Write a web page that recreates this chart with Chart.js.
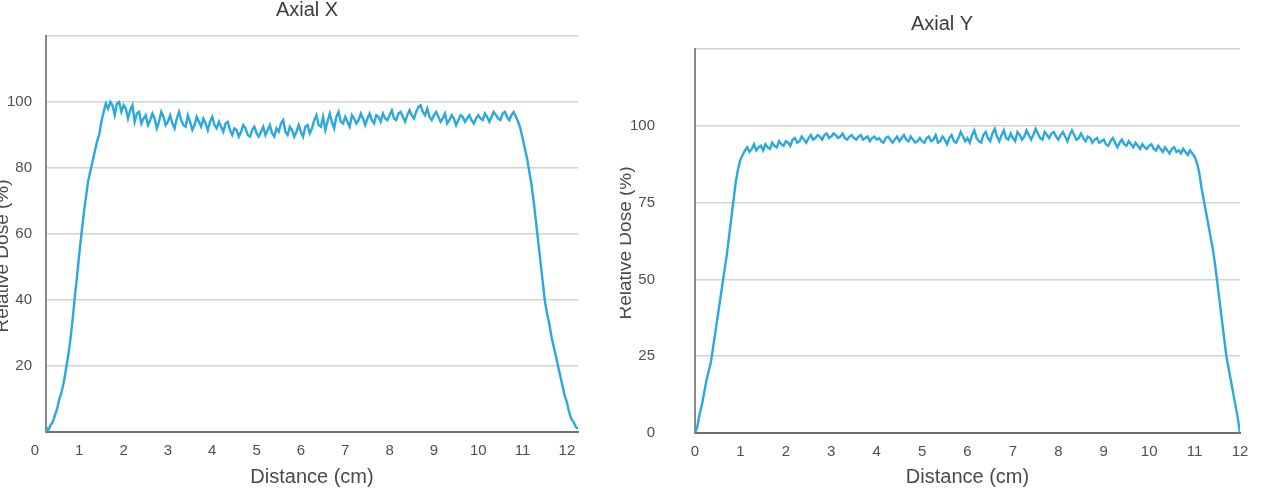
<!DOCTYPE html>
<html><head><meta charset="utf-8">
<script src="https://cdn.jsdelivr.net/npm/chart.js@4.4.1/dist/chart.umd.min.js"></script>
<style>
html,body{margin:0;padding:0;background:#fff;width:1266px;height:489px;overflow:hidden;position:relative}
canvas{position:absolute;top:0}
#cx{left:0}
#cy{left:620px}
</style></head><body>
<canvas id="cx" width="614" height="489"></canvas>
<canvas id="cy" width="646" height="489"></canvas>
<script>
// Distance (cm) sample positions
const distance = [
0,0.05,0.1,0.15,0.2,0.25,0.3,0.35,0.4,0.45,0.5,0.55,0.6,0.65,0.7,0.75,0.8,0.85,0.9,0.95,
1,1.05,1.1,1.15,1.2,1.25,1.3,1.35,1.4,1.45,1.5,1.55,1.6,1.65,1.7,1.75,1.8,1.85,1.9,1.95,
2,2.05,2.1,2.15,2.2,2.25,2.3,2.35,2.4,2.45,2.5,2.55,2.6,2.65,2.7,2.75,2.8,2.85,2.9,2.95,
3,3.05,3.1,3.15,3.2,3.25,3.3,3.35,3.4,3.45,3.5,3.55,3.6,3.65,3.7,3.75,3.8,3.85,3.9,3.95,
4,4.05,4.1,4.15,4.2,4.25,4.3,4.35,4.4,4.45,4.5,4.55,4.6,4.65,4.7,4.75,4.8,4.85,4.9,4.95,
5,5.05,5.1,5.15,5.2,5.25,5.3,5.35,5.4,5.45,5.5,5.55,5.6,5.65,5.7,5.75,5.8,5.85,5.9,5.95,
6,6.05,6.1,6.15,6.2,6.25,6.3,6.35,6.4,6.45,6.5,6.55,6.6,6.65,6.7,6.75,6.8,6.85,6.9,6.95,
7,7.05,7.1,7.15,7.2,7.25,7.3,7.35,7.4,7.45,7.5,7.55,7.6,7.65,7.7,7.75,7.8,7.85,7.9,7.95,
8,8.05,8.1,8.15,8.2,8.25,8.3,8.35,8.4,8.45,8.5,8.55,8.6,8.65,8.7,8.75,8.8,8.85,8.9,8.95,
9,9.05,9.1,9.15,9.2,9.25,9.3,9.35,9.4,9.45,9.5,9.55,9.6,9.65,9.7,9.75,9.8,9.85,9.9,9.95,
10,10.05,10.1,10.15,10.2,10.25,10.3,10.35,10.4,10.45,10.5,10.55,10.6,10.65,10.7,10.75,10.8,10.85,10.9,10.95,
11,11.05,11.1,11.15,11.2,11.25,11.3,11.35,11.4,11.45,11.5,11.55,11.6,11.65,11.7,11.75,11.8,11.85,11.9,11.95,
12,12.05,12.1,12.15,12.2,12.25
];
// Axial X relative dose (%)
const doseAxialX = [
null,null,null,null,null,1.5,0.5,2,3,5,7,10,12,15,19,23,28,34,41,47,
54,60,66,71,76,79,82,85,88,90,94,97,99.5,98,100,99,96,99.5,100,97,
99,98,95,97.5,99,94,96.5,97,93.5,95,96,93,94.5,96.5,95,92,94,97,95.5,93,
94,96,93.5,92,95,97,94.5,93,92.5,96,94,91.5,93,95.5,94,92.5,95,93.5,91.5,94,
95.5,93,92,94,92.5,91,93.5,94,91.5,90,92,91.5,89.5,91,93,92,90,89.5,91.5,92.5,
90.5,89.5,91,92.5,90,91.5,93,90.5,89.5,92,91,93.5,94.5,91,90,92.5,91.5,89.5,91,93,
91,89.5,92.5,93,90.5,92,94.5,96,93,92.5,95.5,91.5,94,96.5,94,92,95.5,97,94,93.5,
95.5,94,92.5,96,95,93.5,94.5,96.5,95,93,95,96.5,94.5,93.5,96,95.5,94,96.5,95,94.5,
96,97.5,95,94.5,96.5,97,95.5,94,96,97.5,96,95,97,98.5,99,97,96,98,95.5,94.5,
96,97,95.5,94,95,96.5,93.5,94.5,96,95,93,94.5,96,95.5,94,95,96,94.5,93.5,95,
96,95,94.5,96.5,95.5,94,95.5,97,96,95,94.5,96.5,97,95.5,94.5,96,97,95.5,94,92,
89,86,83,79,75,70,64,58,52,46,40,36,33,29,26,23,20,17,14,11,
9,6,4,3,1.5,1
];
// Axial Y relative dose (%)
const doseAxialY = [
0,2,6,9,13,17,20,23,28,33,38,43,48,53,58,64,70,76,82,86,
89,90.5,92,93,91.5,92.5,94,92,93,93.5,92,94,93,92.5,94.5,93.5,93,95,94,93.5,
95,94.5,93.5,95.5,96,94.5,95,96.5,95.5,94.5,96,97,95.5,96,97,96.5,95.5,97,97.5,96,
96.5,97.5,97,96,96.5,97.5,96,95.5,96.5,97,96,95.5,96.5,97,95.5,96,96.5,95,96,96.5,
95.5,96,95,94.5,96,96.5,95.5,94.5,95.5,96.5,95,96,97,95.5,95,96.5,95.5,94.5,95,96,
95,94.5,96,96.5,95,95.5,97,94.5,95,96.5,95.5,94,96,97,95,94.5,96,98,96.5,95,
96,94.5,97,98.5,96,95,94.5,97,98,96,95,97.5,99,96.5,95,97,98.5,96,95.5,97.5,
96,95,98,97,95.5,96.5,98.5,97,95.5,97,99,97.5,96,95.5,98,97,96,97.5,98,96.5,
95.5,97,98,96.5,95,97,98.5,97,95.5,96,97.5,96,95,96.5,96,94.5,95.5,96,94.5,95,
95.5,94,93.5,95,96,94.5,93,94.5,95.5,94,93.5,95,94,93,94.5,93.5,92.5,94,93,92.5,
93.5,94,92.5,92,93.5,92.5,91.5,93,92,91,92.5,93,91.5,92,91,92.5,91.5,90.5,92,91,
90,88,85,80,76,72,68,64,60,55,49,43,37,31,25,21,17,13,9,5,
0,null,null,null,null,null
];
const xTickValues = [0,1,2,3,4,5,6,7,8,9,10,11,12];
const yGridAxialX = [0,20,40,60,80,100,120];
const yLabelsAxialX = [20,40,60,80,100];
const yGridAxialY = [0,25,50,75,100,125];
const yLabelsAxialY = [0,25,50,75,100];

const FF = "'Liberation Sans', Arial, sans-serif";
const LINE = '#2aa8e0';
const TITLE_C = '#3c3c3c';
const TICK_C = '#4f4f4f';
const AXT_C = '#4a4a4a';

function pts(dose){
  const out = [];
  for (let i = 0; i < distance.length; i++) {
    if (dose[i] !== null && dose[i] !== undefined) out.push({x: distance[i], y: dose[i]});
  }
  return out;
}

// Draws the chart title and the rotated y-axis title at chosen spots
const placedTitles = {
  id: 'placedTitles',
  afterDraw(chart, args, o) {
    const ctx = chart.ctx;
    ctx.save();
    ctx.fillStyle = TITLE_C;
    ctx.textAlign = 'center';
    ctx.textBaseline = 'middle';
    ctx.font = 'normal 20px ' + FF;
    ctx.fillText(o.title, o.tx, o.ty);
    ctx.fillStyle = AXT_C;
    ctx.font = 'normal 19px ' + FF;
    ctx.translate(o.yx, o.yy);
    ctx.rotate(-Math.PI / 2);
    ctx.fillText(o.yTitle, 0, 0);
    ctx.restore();
  }
};

function makeChart(id, o){
  return new Chart(document.getElementById(id), {
    type: 'line',
    data: {datasets: [{data: pts(o.dose), borderColor: LINE, backgroundColor: LINE, borderWidth: 2.4,
      pointRadius: 0, tension: 0, fill: false}]},
    options: {
      responsive: false, animation: false, devicePixelRatio: 1,
      layout: {padding: {left: 0, right: o.padRight, top: o.padTop, bottom: 0}},
      plugins: {
        legend: {display: false}, tooltip: {enabled: false}, title: {display: false},
        placedTitles: o.titles
      },
      scales: {
        x: {type: 'linear', min: o.xMin, max: o.xMax,
          afterBuildTicks: s => { s.ticks = xTickValues.map(v => ({value: v})); },
          afterFit: s => { s.height = o.xHeight; },
          grid: {display: false, drawTicks: false},
          border: {display: true, color: '#6e6e6e', width: 2},
          ticks: {autoSkip: false, maxRotation: 0, padding: 10, color: TICK_C,
            font: {family: FF, size: 15}, callback: v => String(v)},
          title: {display: true, text: 'Distance (cm)', color: AXT_C,
            font: {family: FF, size: 20}, padding: {top: 0, bottom: 0}}
        },
        y: {type: 'linear', min: 0, max: o.yMax,
          afterBuildTicks: s => { s.ticks = o.yGrid.map(v => ({value: v})); },
          afterFit: s => { s.width = o.yWidth; },
          grid: {color: '#d2d2d2', lineWidth: 1.5, drawTicks: false},
          border: {display: true, color: '#8a8a8a', width: 2},
          ticks: {padding: o.yTickPad, color: TICK_C, font: {family: FF, size: 15},
            callback: v => o.yLabels.includes(v) ? String(v) : ''},
          title: {display: false}
        }
      }
    },
    plugins: [placedTitles]
  });
}

makeChart('cx', {dose: doseAxialX, padRight: 36, padTop: 36, xMin: 0.25, xMax: 12.25, xHeight: 57,
  yMax: 120, yGrid: yGridAxialX, yLabels: yLabelsAxialX, yWidth: 46, yTickPad: 14,
  titles: {title: 'Axial X', tx: 307, ty: 10, yTitle: 'Relative Dose (%)', yx: 2.5, yy: 256}});

makeChart('cy', {dose: doseAxialY, padRight: 26, padTop: 49, xMin: 0, xMax: 12, xHeight: 56,
  yMax: 125, yGrid: yGridAxialY, yLabels: yLabelsAxialY, yWidth: 75, yTickPad: 40,
  titles: {title: 'Axial Y', tx: 322, ty: 24, yTitle: 'Relative Dose (%)', yx: 6, yy: 243}});
</script>
</body></html>
